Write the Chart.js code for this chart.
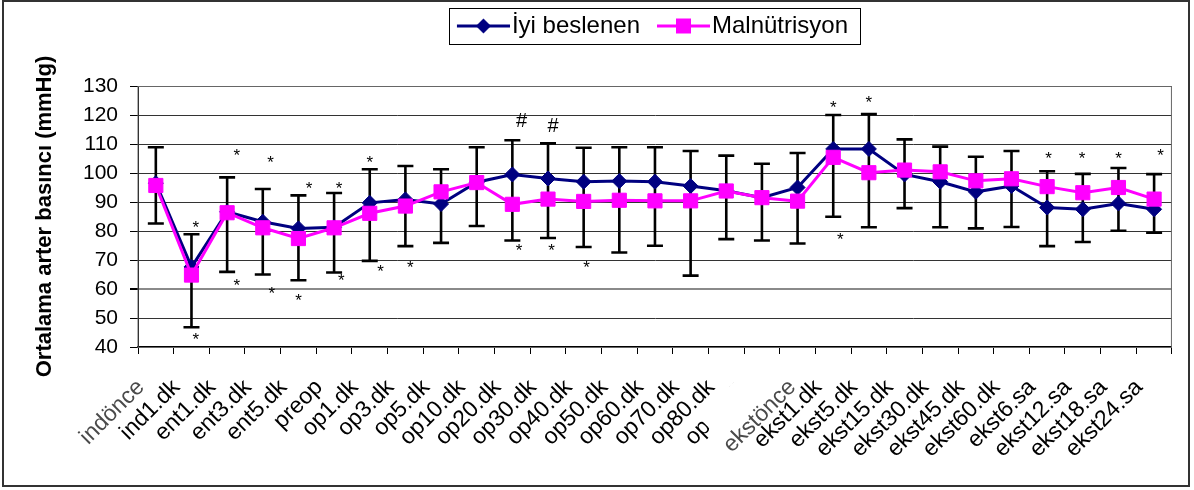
<!DOCTYPE html>
<html>
<head>
<meta charset="utf-8">
<script src="https://cdn.jsdelivr.net/npm/chart.js@4.4.1/dist/chart.umd.min.js"></script>
<style>
  html, body { margin: 0; padding: 0; background: #fff; }
  #frame { position: absolute; left: 2px; top: 0; width: 1184px; height: 483px; border: 2px solid #333; }
  #wrap { position: absolute; left: 0; top: 0; width: 1194px; height: 490px; }
</style>
</head>
<body>
<div id="frame"></div>
<div id="wrap"><canvas id="chart" width="1194" height="490"></canvas></div>
<script>
// zaman noktaları
const categories = ["indönce", "ind1.dk", "ent1.dk", "ent3.dk", "ent5.dk", "preop", "op1.dk", "op3.dk",
  "op5.dk", "op10.dk", "op20.dk", "op30.dk", "op40.dk", "op50.dk", "op60.dk", "op70.dk", "op80.dk",
  "op90.dk", "ekstönce", "ekst1.dk", "ekst5.dk", "ekst15.dk", "ekst30.dk", "ekst45.dk", "ekst60.dk",
  "ekst6.sa", "ekst12.sa", "ekst18.sa", "ekst24.sa"];

const iyiBeslenen = [96.5, 67.6, 86.6, 83.2, 80.9, 81.3, 89.7, 90.9, 89.3, 96.8, 99.5, 98.1, 97.0, 97.2,
  97.0, 95.5, 93.9, 91.5, 95.0, 108.3, 108.3, 99.5, 97.0, 93.5, 95.5, 88.1, 87.5, 89.5, 87.5];
const malnutrisyon = [95.7, 64.8, 86.3, 81.1, 77.4, 81.1, 86.1, 88.6, 93.5, 96.7, 89.2, 91.0, 90.2, 90.6,
  90.4, 90.4, 93.8, 91.5, 90.3, 105.4, 100.1, 101.0, 100.4, 97.3, 98.0, 95.3, 93.2, 95.0, 91.0];

// hata çubukları (üst / alt uç)
const errUpper = [108.9, 78.9, 98.5, 94.5, 92.3, 93.1, 101.3, 102.4, 101.3, 108.9, 111.3, 110.2, 108.7, 108.9,
  108.9, 107.6, 106.0, 103.2, 106.9, 120.0, 120.3, 111.6, 109.1, 105.6, 107.6, 100.6, 99.7, 101.7, 99.6];
const errLower = [82.6, 46.8, 65.9, 65.0, 63.0, 65.7, 69.7, 74.8, 75.9, 81.7, 76.7, 77.6, 74.5, 72.6,
  74.9, 64.6, 77.2, 76.7, 75.7, 84.9, 81.3, 87.9, 81.3, 80.9, 81.4, 74.8, 76.2, 80.1, 79.4];

// anlamlılık işaretleri (kategori konumu, değer)
const starX = [1.12, 1.12, 2.27, 2.27, 3.22, 3.25, 4.3, 4.0, 5.14, 5.2, 6.0, 6.3, 7.14, 10.19, 11.1, 12.08,
  19.0, 19.2, 20.0, 25.04, 25.98, 27.0, 28.18];
const starY = [82.4, 43.7, 107.3, 62.4, 104.8, 59.6, 95.8, 57.3, 95.8, 64.2, 104.8, 67.1, 68.5, 74.5, 74.5, 68.5,
  123.8, 78.2, 125.5, 106.0, 106.0, 106.0, 107.1];
const hashX = [10.26, 11.14];
const hashY = [117.7, 116.0];

const yTicks = [40, 50, 60, 70, 80, 90, 100, 110, 120, 130];

Chart.defaults.font.family = "'Liberation Sans', Arial, sans-serif";
Chart.defaults.color = "#000";

// lejant simgesi: çizgi + işaretçi
function legendIcon(color, style) {
  const c = document.createElement("canvas");
  c.width = 58; c.height = 22;
  const g = c.getContext("2d");
  g.strokeStyle = color; g.fillStyle = color; g.lineWidth = 3;
  g.beginPath(); g.moveTo(5, 11); g.lineTo(58, 11); g.stroke();
  const cx = 31.5;
  g.beginPath();
  if (style === "diamond") {
    g.moveTo(cx - 7.5, 11); g.lineTo(cx, 3.5); g.lineTo(cx + 7.5, 11); g.lineTo(cx, 18.5);
  } else {
    g.rect(cx - 7.5, 3.5, 15, 15);
  }
  g.closePath(); g.fill();
  return c;
}

const errorBars = {
  id: "errorBars",
  beforeDatasetsDraw(chart) {
    const { ctx, scales: { x, y } } = chart;
    ctx.save();
    ctx.strokeStyle = "#000";
    ctx.lineWidth = 2.6;
    errUpper.forEach((hi, i) => {
      const px = x.getPixelForValue(i);
      const top = y.getPixelForValue(hi);
      const bot = y.getPixelForValue(errLower[i]);
      ctx.beginPath();
      ctx.moveTo(px, top); ctx.lineTo(px, bot);
      ctx.moveTo(px - 8, top); ctx.lineTo(px + 8, top);
      ctx.moveTo(px - 8, bot); ctx.lineTo(px + 8, bot);
      ctx.stroke();
    });
    ctx.restore();
  }
};

const marks = {
  id: "marks",
  afterDatasetsDraw(chart) {
    const { ctx, scales: { x, y } } = chart;
    ctx.save();
    ctx.fillStyle = "#000";
    ctx.textAlign = "center";
    ctx.textBaseline = "middle";
    ctx.font = "17px 'Liberation Sans', Arial, sans-serif";
    starX.forEach((v, i) => ctx.fillText("*", x.getPixelForValue(v), y.getPixelForValue(starY[i]) + 4));
    ctx.font = "20px 'Liberation Sans', Arial, sans-serif";
    hashX.forEach((v, i) => ctx.fillText("#", x.getPixelForValue(v), y.getPixelForValue(hashY[i])));
    ctx.restore();
  }
};

const frames = {
  id: "frames",
  beforeDatasetsDraw(chart) {
    const { ctx, chartArea: a } = chart;
    ctx.save();
    ctx.strokeStyle = "#666";
    ctx.lineWidth = 1;
    ctx.strokeRect(a.left, a.top + 0.5, a.right - a.left - 0.5, a.bottom - a.top);
    ctx.restore();
  },
  afterDraw(chart) {
    const lg = chart.legend;
    if (!lg || !lg.legendHitBoxes.length) return;
    const hb = lg.legendHitBoxes;
    const last = hb[hb.length - 1];
    const ctx = chart.ctx;
    ctx.save();
    ctx.strokeStyle = "#000";
    ctx.lineWidth = 1;
    const left = Math.round(hb[0].left - 13) + 0.5;
    const top = Math.round(hb[0].top - 6) + 0.5;
    ctx.strokeRect(left, top, Math.round(last.left + last.width + 12 - left), Math.round(hb[0].height + 12));
    ctx.restore();
  }
};

new Chart(document.getElementById("chart"), {
  type: "line",
  data: {
    labels: categories,
    datasets: [
      {
        label: "İyi beslenen",
        data: iyiBeslenen,
        borderColor: "#000080",
        backgroundColor: "#000080",
        borderWidth: 3,
        pointStyle: "rectRot",
        pointRadius: 7.5,
        pointBorderWidth: 1,
        order: 1
      },
      {
        label: "Malnütrisyon",
        data: malnutrisyon,
        borderColor: "#FF00FF",
        backgroundColor: "#FF00FF",
        borderWidth: 3,
        pointStyle: "rect",
        pointRadius: 10,
        pointBorderWidth: 1,
        order: 0
      }
    ]
  },
  options: {
    responsive: false,
    animation: false,
    devicePixelRatio: 1,
    layout: { padding: { left: 5, right: 22, top: -8, bottom: 5 } },
    plugins: {
      tooltip: { enabled: false },
      legend: {
        position: "top",
        fullSize: false,
        labels: {
          usePointStyle: true,
          pointStyleWidth: 38,
          padding: 22,
          color: "#000",
          font: { size: 24 },
          generateLabels: (chart) => chart.data.datasets.map((ds, i) => ({
            text: ds.label,
            pointStyle: legendIcon(ds.borderColor, i === 0 ? "diamond" : "square"),
            fillStyle: ds.borderColor,
            strokeStyle: ds.borderColor,
            lineWidth: 0,
            datasetIndex: i,
            hidden: false
          }))
        }
      },
      title: {
        display: true,
        text: "",
        weight: 500,
        fullSize: false,
        font: { size: 1 },
        padding: { top: 0, bottom: 36.8 }
      }
    },
    scales: {
      x: {
        offset: true,
        afterFit: (s) => { s.height = 138; },
        grid: { offset: true, drawOnChartArea: false, tickLength: 7, color: "#000", tickWidth: 1 },
        border: { color: "#000", width: 2 },
        ticks: {
          autoSkip: false,
          minRotation: 45,
          maxRotation: 45,
          padding: 20,
          labelOffset: -15,
          font: { size: 23 },
          color: (c) => (c.index === 0 || c.index === 18 ? "#4a4a4a" : "#000"),
          showLabelBackdrop: (c) => c.index === 18,
          backdropColor: "#fff",
          backdropPadding: { top: 29, bottom: 0, left: -2, right: 0 }
        }
      },
      y: {
        min: 40,
        max: 130,
        afterFit: (s) => { s.width = 133; },
        afterBuildTicks: (s) => { s.ticks = yTicks.map((v) => ({ value: v })); },
        grid: {
          color: (c) => (c.tick && c.tick.value === 60 ? "#8a8a8a" : "#333"),
          lineWidth: (c) => (c.tick && c.tick.value === 60 ? 2 : 1),
          tickLength: 8,
          tickColor: "#000"
        },
        border: { color: "#000", width: 1 },
        ticks: { padding: 12, font: { size: 21 }, color: "#000" },
        title: {
          display: true,
          text: "Ortalama arter basıncı (mmHg)",
          font: { size: 22, weight: "bold" },
          color: "#000",
          padding: { top: 27, bottom: 0 }
        }
      }
    }
  },
  plugins: [errorBars, marks, frames]
});
</script>
</body>
</html>
